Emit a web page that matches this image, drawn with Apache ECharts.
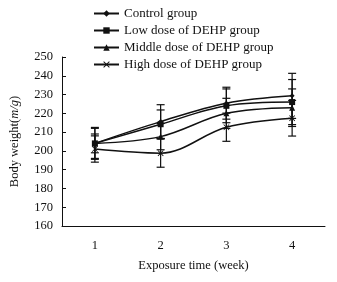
<!DOCTYPE html>
<html>
<head>
<meta charset="utf-8">
<script src="https://cdn.jsdelivr.net/npm/echarts@6/dist/echarts.min.js"></script>
<style>
  html, body { margin: 0; padding: 0; background: #fff; }
  #chart { width: 337px; height: 282px; }
</style>
</head>
<body>
<div id="chart"></div>
<script>
  // 横轴：暴露时间（周）
  const weeks = ['1', '2', '3', '4']
  const groupNames = [
    'Control group',
    'Low dose of DEHP group',
    'Middle dose of DEHP group',
    'High dose of DEHP group'
  ]
  // 各组体重均值
  const controlMean = [204, 215.6, 225.4, 229.3]
  const lowMean = [204, 214.2, 224, 226]
  const middleMean = [204, 207.6, 220, 223]
  const highMean = [201, 198.8, 212.6, 217.4]
  // 各组标准差（误差棒）
  const controlErr = [8.5, 9, 8.5, 12]
  const lowErr = [8, 7.6, 9, 12]
  const middleErr = [5, 7, 8, 10]
  const highErr = [7, 7.5, 7.5, 9.5]

  const means = [controlMean, lowMean, middleMean, highMean]
  const errs = [controlErr, lowErr, middleErr, highErr]
  const symbols = [
    'diamond',
    'rect',
    'triangle',
    'path://M0,1L1,0L5,4L9,0L10,1L6,5L10,9L9,10L5,6L1,10L0,9L4,5Z'
  ]
  const symbolSizes = [5, 6, 6, 6]

  const font = '"Liberation Serif", "Times New Roman", serif'

  const chart = echarts.init(document.getElementById('chart'))

  const lineSeries = means.map((m, i) => ({
    name: groupNames[i],
    type: 'line',
    data: m,
    smooth: 0.35,
    symbol: symbols[i],
    symbolSize: symbolSizes[i],
    showAllSymbol: true,
    lineStyle: { color: '#111', width: 1.5 },
    itemStyle: { color: '#111' },
    z: 3
  }))

  // 误差棒
  const errSeries = means.map((m, i) => ({
    type: 'custom',
    silent: true,
    data: m.map((v, j) => [j, v - errs[i][j], v + errs[i][j]]),
    renderItem: (params, api) => {
      const lo = api.coord([api.value(0), api.value(1)])
      const hi = api.coord([api.value(0), api.value(2)])
      const w = 4
      const style = { stroke: '#111', lineWidth: 1.2 }
      return {
        type: 'group',
        children: [
          { type: 'line', shape: { x1: lo[0], y1: lo[1], x2: hi[0], y2: hi[1] }, style },
          { type: 'line', shape: { x1: lo[0] - w, y1: lo[1], x2: lo[0] + w, y2: lo[1] }, style },
          { type: 'line', shape: { x1: hi[0] - w, y1: hi[1], x2: hi[0] + w, y2: hi[1] }, style }
        ]
      }
    },
    z: 2
  }))

  chart.setOption({
    animation: false,
    textStyle: { fontFamily: font },
    legend: {
      data: groupNames,
      orient: 'vertical',
      left: 88,
      top: 2,
      itemWidth: 25,
      itemHeight: 8,
      itemGap: 4,
      textStyle: { fontFamily: font, fontSize: 13, color: '#111' }
    },
    grid: { left: 60, right: 12, top: 57, bottom: 56 },
    xAxis: {
      type: 'category',
      data: weeks,
      boundaryGap: true,
      name: 'Exposure time (week)',
      nameLocation: 'middle',
      nameGap: 33,
      nameTextStyle: { fontFamily: font, fontSize: 12.5, color: '#111' },
      axisLine: { lineStyle: { color: '#111', width: 1 } },
      axisTick: { inside: true, length: 4, lineStyle: { color: '#111' } },
      axisLabel: { fontFamily: font, fontSize: 12.5, color: '#111', margin: 13 },
      splitLine: { show: false }
    },
    yAxis: {
      type: 'value',
      min: 160,
      max: 250,
      interval: 10,
      name: '{n|Body weight(}{i|m/g}{n|)}',
      nameLocation: 'middle',
      nameGap: 41,
      nameRotate: 90,
      nameTextStyle: {
        rich: {
          n: { fontFamily: font, fontSize: 12.5, color: '#111' },
          i: { fontFamily: font, fontSize: 12.5, color: '#111', fontStyle: 'italic' }
        }
      },
      axisLine: { show: true, lineStyle: { color: '#111', width: 1 } },
      axisTick: { show: true, inside: true, length: 4, lineStyle: { color: '#111' } },
      axisLabel: { fontFamily: font, fontSize: 12.5, color: '#111', margin: 9 },
      splitLine: { show: false }
    },
    series: [...errSeries, ...lineSeries]
  })
</script>
</body>
</html>
